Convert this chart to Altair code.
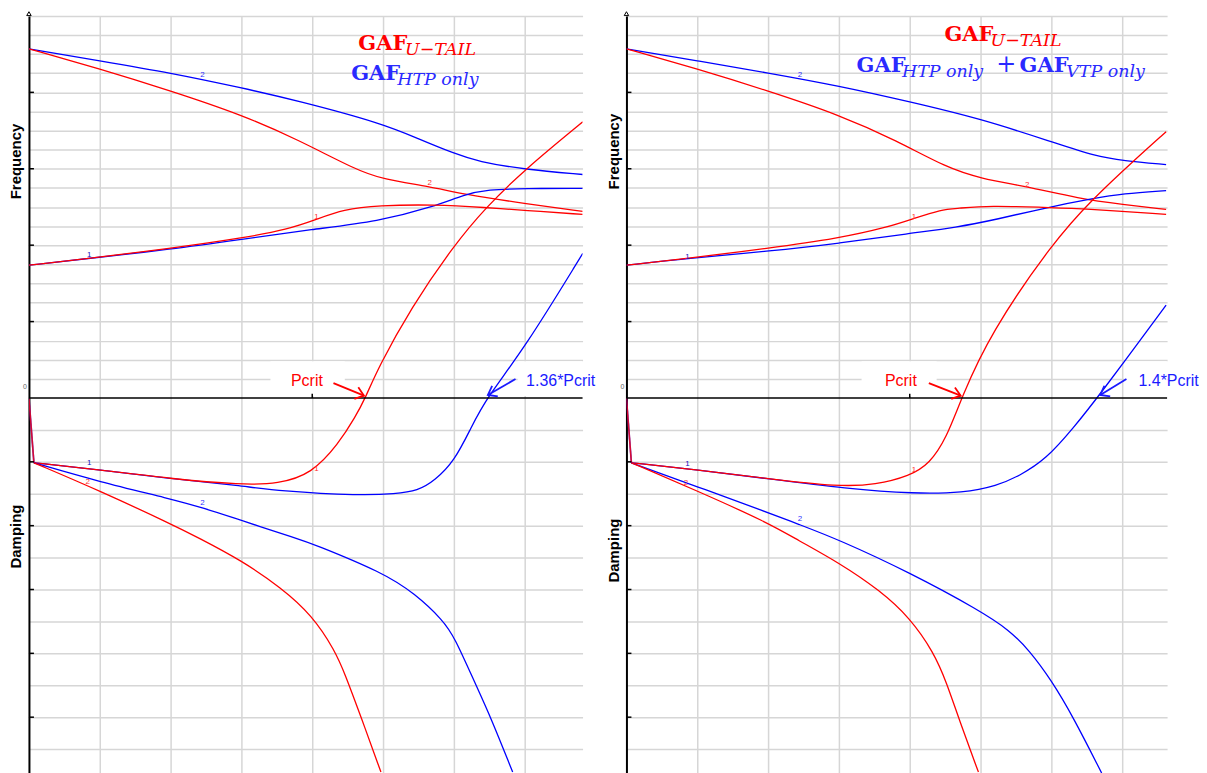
import altair as alt
import pandas as pd

# ---------------- data (x in grid units; y > 0 frequency units, y < 0 damping units) -------------
# initial sharp drop of the damping curves
DROP_X = [0, 0.07]
DROP_Y = [0, -2.03]

# Left panel
L_BLUE_F2_X = [0, 1.0, 2.0, 3.0, 3.80, 5.0, 5.49, 6.01, 6.34, 7.0, 7.82]
L_BLUE_F2_Y = [18.28, 17.65, 17.02, 16.24, 15.56, 14.36, 13.58, 12.79, 12.38, 11.96, 11.70]
L_RED_F2_X = [0, 1.0, 2.0, 3.0, 3.80, 4.61, 5.0, 5.66, 6.15, 7.0, 7.82]
L_RED_F2_Y = [18.28, 17.23, 16.08, 14.83, 13.52, 11.96, 11.44, 11.07, 10.65, 10.18, 9.77]
L_BLUE_F1_X = [0, 0.85, 2.0, 3.0, 4.0, 4.93, 5.73, 6.15, 6.48, 7.0, 7.82]
L_BLUE_F1_Y = [6.95, 7.31, 7.78, 8.30, 8.83, 9.24, 10.03, 10.65, 10.91, 10.97, 10.97]
L_RED_F1_X = [0, 0.85, 2.0, 3.0, 3.66, 4.06, 4.44, 4.93, 5.73, 6.45, 7.0, 7.82]
L_RED_F1_Y = [6.95, 7.31, 7.83, 8.36, 8.83, 9.35, 9.87, 10.08, 10.13, 9.97, 9.82, 9.61]
L_BLUE_D1_X = [0.07, 1.0, 2.0, 3.0, 3.52, 4.69, 5.17, 5.49, 5.73, 6.01, 6.24, 6.46, 7.0, 7.82]
L_BLUE_D1_Y = [-2.03, -2.25, -2.53, -2.75, -2.91, -3.06, -3.0, -2.91, -2.59, -1.97, -0.94, 0, 2.61, 7.57]
L_RED_D1_X = [0.07, 1.0, 2.0, 3.0, 3.52, 3.99, 4.37, 4.61, 4.75, 4.93, 5.39, 6.01, 6.45, 7.0, 7.82]
L_RED_D1_Y = [-2.03, -2.25, -2.53, -2.72, -2.69, -2.38, -1.44, -0.59, 0, 1.57, 4.70, 8.04, 9.97, 11.96, 14.46]
L_BLUE_D2_X = [0.07, 1.0, 2.0, 2.46, 3.0, 3.80, 4.0, 5.0, 5.45, 5.85, 6.01, 6.30, 6.52, 6.83]
L_BLUE_D2_Y = [-2.03, -2.63, -3.16, -3.44, -3.84, -4.41, -4.56, -5.47, -6.13, -6.97, -7.5, -8.94, -10.0, -11.72]
L_RED_D2_X = [0.07, 1.0, 2.0, 2.39, 3.0, 3.56, 4.0, 4.32, 4.46, 4.69, 4.97]
L_RED_D2_Y = [-2.03, -2.91, -3.94, -4.375, -5.09, -5.94, -6.81, -7.91, -8.63, -10.0, -11.72]

# Right panel
R_BLUE_F2_X = [0, 1.0, 2.0, 3.0, 4.0, 5.0, 6.0, 6.63, 7.01, 7.62]
R_BLUE_F2_Y = [18.28, 17.65, 17.02, 16.34, 15.51, 14.62, 13.42, 12.64, 12.43, 12.22]
R_RED_F2_X = [0, 1.0, 2.0, 3.0, 3.82, 4.52, 5.0, 5.65, 6.39, 7.01, 7.62]
R_RED_F2_Y = [18.28, 17.23, 16.08, 14.83, 13.47, 12.06, 11.49, 11.07, 10.44, 10.13, 9.87]
R_BLUE_F1_X = [0, 0.86, 2.0, 3.0, 4.0, 4.66, 5.23, 5.93, 6.59, 7.01, 7.62]
R_BLUE_F1_Y = [6.95, 7.31, 7.68, 8.09, 8.62, 8.93, 9.35, 9.97, 10.44, 10.70, 10.86]
R_RED_F1_X = [0, 0.86, 2.0, 3.0, 3.68, 4.06, 4.45, 4.66, 5.13, 5.93, 6.45, 7.62]
R_RED_F1_Y = [6.95, 7.31, 7.83, 8.36, 8.93, 9.40, 9.87, 9.92, 10.08, 9.97, 9.92, 9.61]
R_BLUE_D1_X = [0.07, 1.0, 2.0, 3.11, 4.06, 4.76, 5.23, 5.55, 5.93, 6.31, 6.65, 7.62]
R_BLUE_D1_Y = [-2.03, -2.25, -2.53, -2.84, -3.0, -2.97, -2.75, -2.44, -1.91, -0.94, 0, 4.86]
R_RED_D1_X = [0.07, 1.0, 2.0, 3.0, 3.52, 4.0, 4.28, 4.52, 4.73, 5.13, 6.03, 6.59, 7.15, 7.62]
R_RED_D1_Y = [-2.03, -2.25, -2.53, -2.78, -2.72, -2.44, -2.06, -1.25, 0, 3.34, 8.20, 10.44, 12.38, 13.94]
R_BLUE_D2_X = [0.07, 1.0, 2.0, 2.41, 3.0, 4.0, 4.99, 5.41, 5.69, 6.0, 6.31, 6.71]
R_BLUE_D2_Y = [-2.03, -2.78, -3.59, -3.94, -4.44, -5.47, -6.66, -7.28, -7.91, -8.84, -10.0, -11.75]
R_RED_D2_X = [0.07, 1.0, 2.0, 2.41, 3.0, 3.58, 4.0, 4.34, 4.52, 4.70, 4.97]
R_RED_D2_Y = [-2.03, -2.91, -3.91, -4.44, -5.16, -6.03, -6.88, -7.97, -8.91, -10.09, -11.72]

# small mode-number labels on the curves
L_LBL_TEXT = ["2", "2", "1", "1", "1", "2", "2", "1"]
L_LBL_X = [2.45, 5.66, 0.85, 4.06, 0.85, 0.83, 2.45, 4.06]
L_LBL_Y = [16.92, 11.23, 7.47, 9.45, -2.03, -2.63, -3.28, -2.22]
R_LBL_TEXT = ["2", "2", "1", "1", "1", "2", "2", "1"]
R_LBL_X = [2.45, 5.66, 0.86, 4.06, 0.86, 0.84, 2.45, 4.06]
R_LBL_Y = [16.92, 11.17, 7.36, 9.45, -2.06, -2.66, -3.78, -2.25]
LBL_COLORS = ["#3030ff", "#ff3030", "#1010c0", "#ff3030", "#1010c0", "#ff3030", "#3030ff", "#ff3030"]

# legend-like titles (main part, subscript part)
L_MAIN = [("GAF", 4.65, 18.22, "red"), ("GAF", 4.55, 16.66, "#2a2aff")]
L_SUB = [("U\u2212TAIL", 5.31, 17.96, "red"), ("HTP only", 5.20, 16.40, "#2a2aff")]
L_PLUS = []
R_MAIN = [("GAF", 4.49, 18.69, "red"), ("GAF", 3.25, 17.08, "#2a2aff"), ("GAF", 5.55, 17.08, "#2a2aff")]
R_SUB = [("U\u2212TAIL", 5.14, 18.43, "red"), ("HTP only", 3.89, 16.81, "#2a2aff"),
         ("VTP only", 6.21, 16.81, "#2a2aff")]
R_PLUS = [("+", 5.22, 17.08, "#2a2aff")]

# critical-point annotations: text, x, y, colour ; arrows: tail x,y -> head x,y, angle
L_PCRIT = [("Pcrit", 3.70, 0.89, "red"), ("1.36*Pcrit", 7.02, 0.89, "#1a1aff")]
L_ARROWS = [(4.30, 0.78, 4.73, 0.12, "red", 19), (6.87, 0.99, 6.48, 0.16, "#1a1aff", 152)]
R_PCRIT = [("Pcrit", 3.65, 0.89, "red"), ("1.4*Pcrit", 7.23, 0.89, "#1a1aff")]
R_ARROWS = [(4.27, 0.78, 4.72, 0.12, "red", 18), (7.06, 0.99, 6.69, 0.16, "#1a1aff", 151)]
# white text-box backgrounds behind the annotations: x, x2, y, y2
L_BOXES = [(3.41, 4.46, 1.92, 0.10), (6.90, 7.82, 1.92, 0.10)]
R_BOXES = [(3.32, 4.38, 1.92, 0.10), (7.03, 7.63, 1.92, 0.10)]

# axis titles drawn as rotated text: text, x, y
L_TITLES = [("Frequency", -0.18, 12.38), ("Damping", -0.18, -4.34)]
R_TITLES = [("Frequency", -0.18, 12.9), ("Damping", -0.18, -4.78)]

FREQ_MAX = 20
DAMP_MIN = -11.75
FREQ_TICKS = [4, 8, 12, 16]
DAMP_TICKS = [-2, -4, -6, -8, -10]
X_MAJOR = [4]
X_GRID = [1, 2, 3, 4, 5, 6, 7]
Y_GRID = list(range(-11, 0)) + list(range(1, 21))

RED = "#ff0000"
BLUE = "#0000ff"
GRID = "#d6d6d6"
H_TOP = 383
H = 759


def curves_df(specs):
    rows = []
    for name, color, xs, ys in specs:
        for i, (x, y) in enumerate(zip(xs, ys)):
            rows.append({"curve": name, "color": color, "i": i, "x": x, "y": y})
    return pd.DataFrame(rows)


def panel(curves, lbl_text, lbl_x, lbl_y, mains, subs, plus, pcrit, arrows, boxes, titles, xmax, width):
    xs = alt.Scale(domain=[0, xmax], nice=False, zero=False)
    xa = alt.Axis(values=X_GRID, grid=True, labels=False, ticks=False, domain=False, title=None,
                  gridColor=GRID, gridWidth=1.5)
    ys = alt.Scale(domain=[DAMP_MIN, 0, FREQ_MAX], range=[H, H_TOP, 0], nice=False, zero=False)
    ya = alt.Axis(values=Y_GRID, grid=True, labels=False, ticks=False, domain=True, domainColor="black",
                  domainWidth=2, title=None, gridColor=GRID, gridWidth=1.5)

    def X(f):
        return alt.X(f, type="quantitative", scale=xs, axis=xa)

    def Y(f):
        return alt.Y(f, type="quantitative", scale=ys, axis=ya)

    bdf = pd.DataFrame(boxes, columns=["x", "x2", "y", "y2"])
    bg = alt.Chart(bdf).mark_rect(color="white", opacity=1, clip=True).encode(
        x=X("x"), x2="x2:Q", y=Y("y"), y2="y2:Q")

    enc = dict(x=X("x"), y=Y("y"), color=alt.Color("color:N", scale=None), detail="curve:N", order="i:Q")
    lines = alt.Chart(curves_df(curves)).mark_line(
        strokeWidth=1.3, interpolate="basis", clip=True).encode(**enc)
    drops = alt.Chart(curves_df([("dropb", BLUE, DROP_X, DROP_Y), ("dropr", RED, DROP_X, DROP_Y)])).mark_line(
        strokeWidth=1.6, clip=True, opacity=0.8).encode(**enc)

    zero = alt.Chart(pd.DataFrame({"y": [0]})).mark_rule(color="black", strokeWidth=1.5).encode(y=Y("y"))

    ticks = alt.Chart(pd.DataFrame({"y": FREQ_TICKS + DAMP_TICKS})).mark_rule(
        color="black", strokeWidth=1.5).encode(y=Y("y"), x=alt.value(0), x2=alt.value(5))
    xticks = alt.Chart(pd.DataFrame({"x": X_MAJOR, "y": [0], "y2": [0.22]})).mark_rule(
        color="black", strokeWidth=1.5).encode(x=X("x"), y=Y("y"), y2="y2:Q")

    top_arrow = alt.Chart(pd.DataFrame({"x": [0], "y": [FREQ_MAX + 0.12]})).mark_point(
        shape="triangle-up", filled=False, size=20, color="black", strokeWidth=1, opacity=1).encode(
        x=X("x"), y=Y("y"))

    zero_lbl = alt.Chart(pd.DataFrame({"x": [-0.03], "y": [0.6], "t": ["0"]})).mark_text(
        fontSize=7, color="#666", align="right", font="Liberation Sans").encode(x=X("x"), y=Y("y"), text="t:N")

    ldf = pd.DataFrame({"t": lbl_text, "x": lbl_x, "y": lbl_y, "c": LBL_COLORS})
    lbls = alt.Chart(ldf).mark_text(fontSize=8, font="Liberation Sans", baseline="middle").encode(
        x=X("x"), y=Y("y"), text="t:N", color=alt.Color("c:N", scale=None))

    mdf = pd.DataFrame(mains, columns=["t", "x", "y", "c"])
    main_txt = alt.Chart(mdf).mark_text(font="DejaVu Serif", fontWeight="bold", fontSize=21,
                                        align="left", baseline="alphabetic").encode(
        x=X("x"), y=Y("y"), text="t:N", color=alt.Color("c:N", scale=None))
    sdf = pd.DataFrame(subs, columns=["t", "x", "y", "c"])
    sub_txt = alt.Chart(sdf).mark_text(font="DejaVu Serif", fontStyle="italic", fontSize=17.5,
                                       align="left", baseline="alphabetic").encode(
        x=X("x"), y=Y("y"), text="t:N", color=alt.Color("c:N", scale=None))
    layers = [bg, lines, drops, zero, ticks, xticks, top_arrow, zero_lbl, lbls, main_txt, sub_txt]
    if plus:
        pdf_ = pd.DataFrame(plus, columns=["t", "x", "y", "c"])
        layers.append(alt.Chart(pdf_).mark_text(font="DejaVu Serif", fontSize=24, align="left",
                                                baseline="alphabetic").encode(
            x=X("x"), y=Y("y"), text="t:N", color=alt.Color("c:N", scale=None)))

    cdf2 = pd.DataFrame(pcrit, columns=["t", "x", "y", "c"])
    pc_txt = alt.Chart(cdf2).mark_text(font="Liberation Sans", fontSize=16, align="left",
                                       baseline="middle").encode(
        x=X("x"), y=Y("y"), text="t:N", color=alt.Color("c:N", scale=None))
    arows = []
    heads = []
    for k, (tx, ty, hx, hy, c, ang) in enumerate(arrows):
        arows += [{"a": k, "x": tx, "y": ty, "c": c}, {"a": k, "x": hx, "y": hy, "c": c}]
        heads.append({"x": hx, "y": hy, "c": c, "ang": ang})
    shaft = alt.Chart(pd.DataFrame(arows)).mark_line(strokeWidth=1.8).encode(
        x=X("x"), y=Y("y"), detail="a:N", color=alt.Color("c:N", scale=None))
    head = alt.Chart(pd.DataFrame(heads)).mark_point(
        shape="M -1 -0.75 L 0 0 L -1 0.75", filled=False, size=260, strokeWidth=1.8, opacity=1).encode(
        x=X("x"), y=Y("y"), angle=alt.Angle("ang:Q", scale=None), color=alt.Color("c:N", scale=None))

    tdf = pd.DataFrame(titles, columns=["t", "x", "y"])
    ttl = alt.Chart(tdf).mark_text(font="Liberation Sans", fontWeight="bold", fontSize=15, angle=270,
                                   align="center", baseline="middle", color="black").encode(
        x=X("x"), y=Y("y"), text="t:N")

    layers += [pc_txt, shaft, head, ttl]
    return alt.layer(*layers).properties(width=width, height=H)


left_curves = [
    ("bf2", BLUE, L_BLUE_F2_X, L_BLUE_F2_Y), ("rf2", RED, L_RED_F2_X, L_RED_F2_Y),
    ("bf1", BLUE, L_BLUE_F1_X, L_BLUE_F1_Y), ("rf1", RED, L_RED_F1_X, L_RED_F1_Y),
    ("bd1", BLUE, L_BLUE_D1_X, L_BLUE_D1_Y), ("rd1", RED, L_RED_D1_X, L_RED_D1_Y),
    ("bd2", BLUE, L_BLUE_D2_X, L_BLUE_D2_Y), ("rd2", RED, L_RED_D2_X, L_RED_D2_Y),
]
right_curves = [
    ("bf2", BLUE, R_BLUE_F2_X, R_BLUE_F2_Y), ("rf2", RED, R_RED_F2_X, R_RED_F2_Y),
    ("bf1", BLUE, R_BLUE_F1_X, R_BLUE_F1_Y), ("rf1", RED, R_RED_F1_X, R_RED_F1_Y),
    ("bd1", BLUE, R_BLUE_D1_X, R_BLUE_D1_Y), ("rd1", RED, R_RED_D1_X, R_RED_D1_Y),
    ("bd2", BLUE, R_BLUE_D2_X, R_BLUE_D2_Y), ("rd2", RED, R_RED_D2_X, R_RED_D2_Y),
]

left = panel(left_curves, L_LBL_TEXT, L_LBL_X, L_LBL_Y, L_MAIN, L_SUB, L_PLUS, L_PCRIT, L_ARROWS,
             L_BOXES, L_TITLES, 555 / 71, 555)
right = panel(right_curves, R_LBL_TEXT, R_LBL_X, R_LBL_Y, R_MAIN, R_SUB, R_PLUS, R_PCRIT, R_ARROWS,
              R_BOXES, R_TITLES, 542 / 71, 542)

chart = alt.hconcat(left, right, spacing=44, bounds="flush").properties(
    padding={"left": 1, "top": 0, "right": 0, "bottom": 0}
).configure_view(stroke=None)

chart.save("out.html", embed_options={"renderer": "svg", "actions": False})
